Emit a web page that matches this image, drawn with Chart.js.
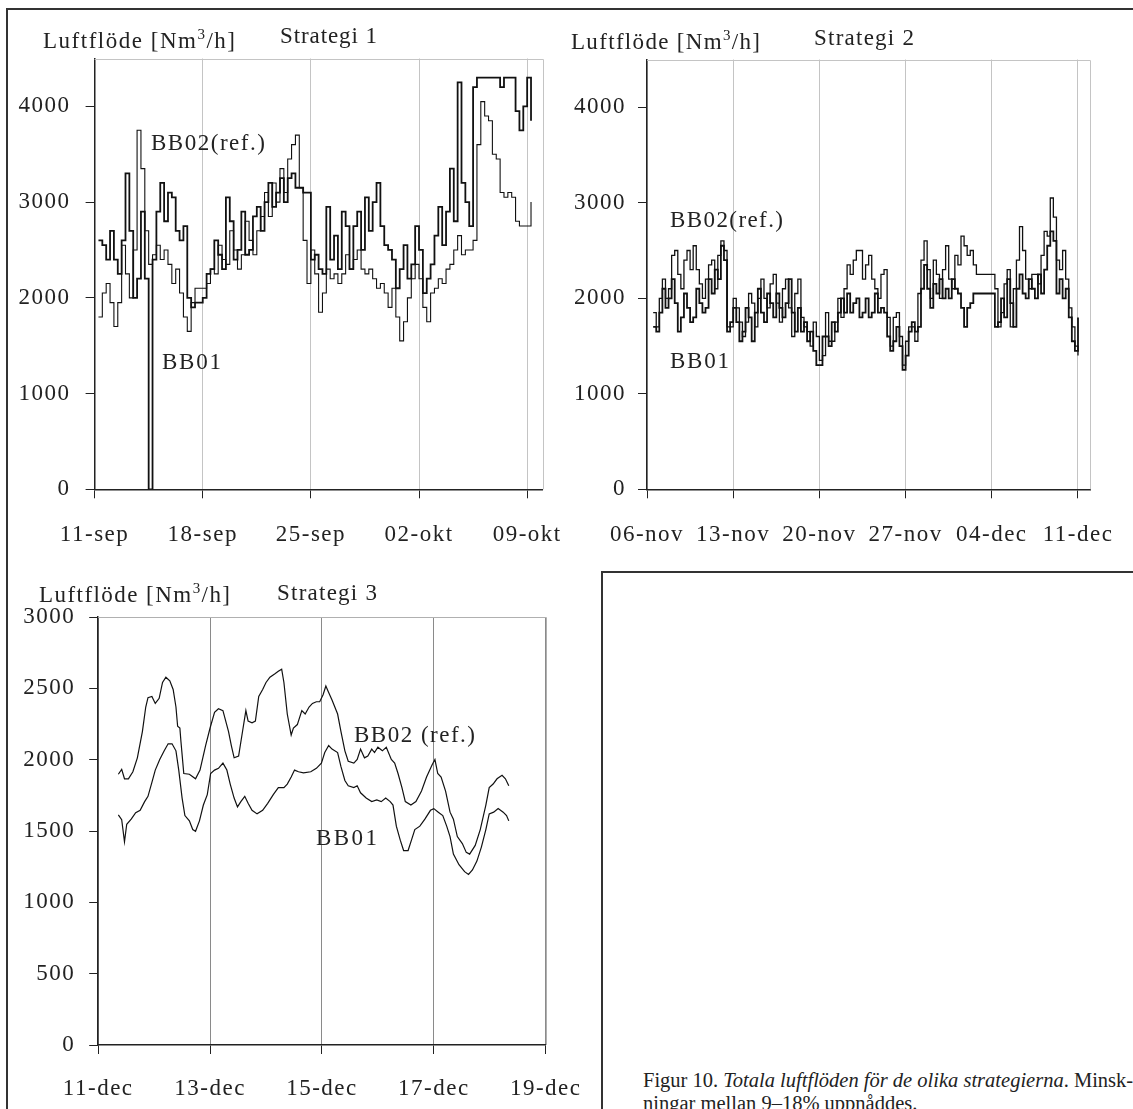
<!DOCTYPE html>
<html lang="sv">
  <head>
    <meta charset="utf-8" />
    <title>Luftflöde strategi 1-3</title>
    <style>
      html, body {
        margin: 0;
        padding: 0;
        width: 1133px;
        height: 1109px;
        overflow: hidden;
        background: #fff;
      }
      canvas { position: absolute; }
      .frame { position: absolute; background: #333; }
      .lbl {
        position: absolute;
        display: inline-block;
        white-space: nowrap;
        font-family: "Liberation Serif", "DejaVu Serif", serif;
        font-size: 23px;
        line-height: 23px;
        color: #222;
      }
      .lbl sup { font-size: 15px; line-height: 0; vertical-align: 9px; }
      .caption {
        position: absolute;
        left: 643px;
        top: 1069px;
        white-space: nowrap;
        font-family: "Liberation Serif", serif;
        font-size: 20.5px;
        line-height: 23px;
        color: #222;
      }
    </style>
  </head>
  <body>
    <!-- page frame -->
    <div class="frame" style="left:7px; top:8px; width:1126px; height:2px"></div>
    <div class="frame" style="left:6px; top:8px; width:2px; height:1101px"></div>
    <div class="frame" style="left:601px; top:571px; width:532px; height:2px"></div>
    <div class="frame" style="left:601px; top:571px; width:2px; height:538px"></div>

    <canvas id="c1" width="600" height="560" style="left:0; top:0"></canvas>
    <canvas id="c2" width="573" height="560" style="left:560px; top:0"></canvas>
    <canvas id="c3" width="600" height="549" style="left:0; top:560px"></canvas>

    <div class="lbl" data-x="43" data-y="41" data-w="192">Luftflöde [Nm<sup>3</sup>/h]</div>
    <div class="lbl" data-x="280" data-y="36" data-w="97">Strategi 1</div>
    <div class="lbl" data-x="151" data-y="143" data-w="114">BB02(ref.)</div>
    <div class="lbl" data-x="162" data-y="362" data-w="59">BB01</div>

    <div class="lbl" data-x="571" data-y="42" data-w="189">Luftflöde [Nm<sup>3</sup>/h]</div>
    <div class="lbl" data-x="814" data-y="38" data-w="100">Strategi 2</div>
    <div class="lbl" data-x="670" data-y="220" data-w="113">BB02(ref.)</div>
    <div class="lbl" data-x="670" data-y="361" data-w="59">BB01</div>

    <div class="lbl" data-x="39" data-y="595" data-w="191">Luftflöde [Nm<sup>3</sup>/h]</div>
    <div class="lbl" data-x="277" data-y="593" data-w="100">Strategi 3</div>
    <div class="lbl" data-x="354" data-y="735" data-w="121">BB02 (ref.)</div>
    <div class="lbl" data-x="316" data-y="838" data-w="61">BB01</div>

    <div class="caption">
      Figur 10. <i>Totala luftflöden för de olika strategierna</i>. Minsk-<br />
      ningar mellan 9–18% uppnåddes.
    </div>

    <script src="https://cdn.jsdelivr.net/npm/chart.js/dist/chart.umd.min.js"></script>
    <script>
      // ---- Strategi 1 (11-sep .. 09-okt), samples every 6 h from day 0.25
      const s1Start = 0.25;
      const s1Step = 0.25;
      const s1Bb02 = [
        1800, 2050, 2150, 1950,  1700, 1950, 2550, 2250,  2000, 2500, 3750, 3350,
        2700, 2350, 2450, 2550,  2400, 2500, 2350, 2150,  2300, 2050, 1800, 1650,
        1950, 2100, 2100, 2100,  2150, 2300, 2250, 2550,  2400, 2350, 2700, 2500,
        2300, 2450, 2800, 2600,  2450, 2700, 2850, 3100,  2850, 3200, 3000, 3350,
        3100, 3450, 3600, 3700,  3150, 2600, 2150, 2500,  2250, 1850, 2050, 2300,
        2200, 2250, 2150, 2250,  2450, 2300, 2400, 2500,  2300, 2250, 2300, 2200,
        2100, 2150, 2050, 1900,  2100, 1800, 1550, 1750,  2000, 2200, 2350, 2200,
        1900, 1750, 2050, 2100,  2200, 2150, 2300, 2350,  2500, 2650, 2450, 2500,
        2500, 2600, 3600, 4050,  3900, 3850, 3500, 3450,  3100, 3050, 3100, 3050,
        2800, 2750, 2750, 2750,  3000
      ];
      const s1Bb01 = [
        2600, 2550, 2400, 2700,  2400, 2250, 2600, 3300,  2700, 2000, 2200, 2900,
        2200, 0, 2400, 2900,     3200, 2800, 3100, 3050,  2700, 2600, 2750, 2000,
        1900, 1950, 1950, 2000,  2250, 2300, 2600, 2450,  2300, 3050, 2800, 2400,
        2500, 2900, 2450, 2500,  2850, 2950, 2700, 3000,  3200, 2950, 3100, 3250,
        3000, 3250, 3300, 3150,  3150, 3100, 3100, 2400,  2450, 2300, 2250, 2950,
        2400, 2650, 2300, 2900,  2750, 2300, 2750, 2900,  2500, 3050, 2700, 3000,
        3200, 2750, 2550, 2500,  2400, 2100, 2300, 2550,  2200, 2350, 2750, 2500,
        2050, 2200, 2350, 2650,  2950, 2550, 2900, 3350,  2800, 4250, 3200, 3000,
        2750, 4200, 4300, 4300,  4300, 4300, 4300, 4300,  4200, 4300, 4300, 4300,
        3950, 3750, 4000, 4300,  3850
      ];
      const s1XTicks = [0, 7, 14, 21, 28];
      const s1XLabels = ["11-sep", "18-sep", "25-sep", "02-okt", "09-okt"];

      // ---- Strategi 2 (06-nov .. 11-dec), samples every 6 h from day 0.5
      const s2Start = 0.5;
      const s2Step = 0.25;
      const s2Bb02 = [
        1850, 1700, 2000,
        2200, 2000, 2100, 2450,  2500, 2250, 2100, 2400,  2500, 2300, 2550, 2300,
        2150, 2000, 2200, 2350,  2400, 2100, 2450, 2600,  2500, 1700, 1700, 2000,
        1900, 1750, 1600, 1750,  2050, 1950, 1700, 2000,  2200, 2000, 1900, 2150,
        2250, 1950, 1750, 2100,  2200, 1900, 1600, 2050,  2200, 1800, 1700, 1650,
        1500, 1750, 1600, 1350,  1400, 1850, 1550, 1550,  1750, 2000, 1800, 2100,
        2350, 2250, 2400, 2500,  2500, 2200, 2350, 2450,  2200, 2100, 2000, 2250,
        2300, 1800, 1500, 1800,  1850, 1600, 1300, 1550,  1700, 1700, 1550, 2050,
        2400, 2600, 2300, 2000,  2400, 2250, 2000, 2300,  2550, 2200, 2100, 2450,
        2350, 2650, 2550, 2450,  2500, 2350, 2250, 2250,  2250, 2250, 2250, 2250,
        2100, 1700, 1850, 2150,  2300, 1700, 2100, 2400,  2750, 2500, 2200, 2100,
        2250, 2250, 2150, 2450,  2700, 2650, 3050, 2850,  2400, 2300, 2500, 2200,
        1900, 1700, 1500, 1400
      ];
      const s2Bb01 = [
        1700, 1650, 1850,
        2100, 1900, 2000, 2200,  1950, 1650, 1800, 2050,  1900, 1750, 1800, 2100,
        1950, 1850, 1900, 2200,  2050, 2300, 2200, 2550,  2400, 1650, 1750, 1900,
        1750, 1550, 1650, 1900,  1800, 1550, 1850, 2100,  1850, 1750, 2050, 1950,
        1800, 2050, 1900, 1800,  1950, 2200, 1850, 1650,  1900, 1650, 1750, 1550,
        1650, 1450, 1300, 1300,  1600, 1600, 1500, 1750,  1650, 1850, 2000, 1850,
        2050, 1850, 1950, 2000,  1800, 1850, 2000, 1800,  1850, 2050, 1850, 1900,
        1850, 1600, 1450, 1550,  1700, 1500, 1250, 1400,  1650, 1750, 1650, 1700,
        2100, 2350, 2100, 1900,  2150, 2050, 2200, 2000,  2100, 2000, 2200, 2100,
        2050, 1900, 1700, 1900,  1950, 2050, 2050, 2050,  2050, 2050, 2050, 2050,
        1700, 1750, 2000, 1800,  2200, 1950, 1700, 2100,  2250, 2050, 2000, 2200,
        2100, 2000, 2250, 2050,  2300, 2550, 2700, 2600,  2050, 2200, 2000, 2100,
        1800, 1550, 1450, 1800
      ];
      const s2XTicks = [0, 7, 14, 21, 28, 35];
      const s2XLabels = ["06-nov", "13-nov", "20-nov", "27-nov", "04-dec", "11-dec"];

      // ---- Strategi 3 (11-dec .. 19-dec), [day, Nm3/h]
      const s3Bb02 = [
        [0.36,1898],[0.42,1932],[0.47,1866],[0.54,1866],[0.62,1915],[0.70,2013],[0.79,2197],
        [0.85,2369],[0.89,2435],[0.96,2443],[1.02,2394],[1.09,2430],[1.15,2541],[1.21,2578],
        [1.28,2553],[1.34,2492],[1.39,2369],[1.42,2234],[1.46,2222],[1.48,2124],[1.53,1903],
        [1.63,1898],[1.74,1866],[1.82,1927],[1.92,2099],[2.00,2222],[2.08,2332],[2.15,2357],
        [2.23,2344],[2.33,2197],[2.38,2099],[2.43,2013],[2.51,2025],[2.59,2222],[2.64,2344],
        [2.68,2271],[2.75,2259],[2.81,2271],[2.87,2443],[2.94,2492],[3.00,2541],[3.07,2578],
        [3.16,2602],[3.22,2619],[3.28,2634],[3.32,2541],[3.38,2320],[3.45,2173],[3.49,2222],
        [3.56,2246],[3.64,2344],[3.70,2320],[3.77,2369],[3.83,2394],[3.90,2406],[3.96,2406],
        [4.02,2455],[4.07,2516],[4.11,2480],[4.18,2418],[4.28,2320],[4.34,2197],[4.41,2062],
        [4.47,1989],[4.57,1976],[4.63,2001],[4.69,2074],[4.76,2013],[4.82,2025],[4.89,2074],
        [4.94,2050],[5.00,2087],[5.08,2062],[5.15,2087],[5.24,2001],[5.30,1976],[5.36,1903],
        [5.43,1804],[5.49,1706],[5.59,1682],[5.68,1706],[5.78,1780],[5.87,1878],[5.97,1964],
        [6.02,2001],[6.07,1903],[6.13,1878],[6.21,1780],[6.29,1632],[6.35,1583],[6.42,1461],
        [6.51,1412],[6.58,1350],[6.64,1338],[6.74,1399],[6.83,1510],[6.93,1682],[6.99,1804],
        [7.06,1829],[7.13,1866],[7.22,1890],[7.28,1866],[7.34,1817]
      ];
      const s3Bb01 = [
        [0.36,1613],[0.42,1579],[0.47,1424],[0.51,1547],[0.59,1583],[0.67,1628],[0.75,1645],
        [0.83,1706],[0.89,1743],[0.96,1841],[1.02,1927],[1.10,2001],[1.18,2062],[1.25,2111],
        [1.32,2111],[1.39,2062],[1.44,1927],[1.50,1731],[1.55,1608],[1.63,1571],[1.69,1510],
        [1.74,1498],[1.81,1571],[1.88,1682],[1.95,1755],[2.01,1903],[2.08,1927],[2.15,1939],
        [2.23,1976],[2.30,1927],[2.36,1829],[2.43,1731],[2.49,1669],[2.55,1706],[2.62,1743],
        [2.68,1694],[2.75,1645],[2.84,1620],[2.94,1645],[3.03,1694],[3.13,1755],[3.22,1804],
        [3.32,1804],[3.38,1829],[3.45,1878],[3.51,1927],[3.58,1915],[3.67,1907],[3.80,1915],
        [3.90,1939],[3.99,1976],[4.05,2050],[4.12,2099],[4.18,2074],[4.28,2050],[4.34,1951],
        [4.41,1854],[4.47,1817],[4.57,1804],[4.63,1817],[4.69,1768],[4.79,1731],[4.89,1706],
        [4.98,1718],[5.06,1706],[5.14,1731],[5.22,1706],[5.27,1682],[5.33,1534],[5.40,1436],
        [5.46,1363],[5.54,1363],[5.60,1436],[5.66,1510],[5.75,1534],[5.84,1583],[5.94,1645],
        [6.00,1657],[6.08,1632],[6.16,1608],[6.23,1534],[6.29,1461],[6.35,1338],[6.45,1264],
        [6.55,1215],[6.62,1196],[6.69,1227],[6.77,1289],[6.85,1387],[6.93,1510],[6.99,1620],
        [7.07,1632],[7.15,1657],[7.24,1632],[7.30,1608],[7.34,1571]
      ];
      const s3XTicks = [0, 2, 4, 6, 8];
      const s3XLabels = ["11-dec", "13-dec", "15-dec", "17-dec", "19-dec"];

      const yTicks12 = [0, 1000, 2000, 3000, 4000];
      const yTicks3 = [0, 500, 1000, 1500, 2000, 2500, 3000];

      // ---- helpers
      const seriesPoints = (vals, t0, dt) => vals.map((v, i) => ({ x: t0 + i * dt, y: v }));
      const pairPoints = (pairs) => pairs.map((p) => ({ x: p[0], y: p[1] }));

      // light grey box on top/right of the plot area, and the wide tick lettering
      const plotBox = {
        id: "plotBox",
        beforeDraw(chart) {
          chart.ctx.letterSpacing = "1.5px";
        },
        beforeDatasetsDraw(chart, args, opts) {
          const { ctx, chartArea: a } = chart;
          ctx.save();
          ctx.strokeStyle = opts.color;
          ctx.lineWidth = 1;
          ctx.beginPath();
          ctx.moveTo(a.left, Math.round(a.top) + 0.5);
          ctx.lineTo(Math.round(a.right) + 0.5, Math.round(a.top) + 0.5);
          ctx.lineTo(Math.round(a.right) + 0.5, a.bottom);
          ctx.stroke();
          ctx.restore();
        },
      };

      const tickFont = { family: "Liberation Serif", size: 23 };

      function makeChart(id, o) {
        const datasets = o.series.map((s) => ({
          data: s.data,
          borderColor: "#111",
          borderWidth: s.width,
          stepped: o.stepped,
          pointRadius: 0,
          tension: 0,
          fill: false,
        }));
        return new Chart(document.getElementById(id), {
          type: "line",
          data: { datasets },
          plugins: [plotBox],
          options: {
            responsive: false,
            animation: false,
            devicePixelRatio: 1,
            layout: { padding: { top: o.top, right: o.right, left: 0, bottom: 0 } },
            plugins: {
              legend: { display: false },
              tooltip: { enabled: false },
              plotBox: { color: o.boxColor },
            },
            scales: {
              x: {
                type: "linear",
                min: 0,
                max: o.xMax,
                afterFit: (ax) => { ax.height = o.xHeight; },
                afterBuildTicks: (ax) => { ax.ticks = o.xTicks.map((v) => ({ value: v })); },
                grid: {
                  color: o.gridColor,
                  tickColor: "#222",
                  tickLength: 9,
                  lineWidth: 1,
                },
                border: { color: "#222", width: 1.5 },
                ticks: {
                  autoSkip: false,
                  maxRotation: 0,
                  padding: o.xPad,
                  color: "#222",
                  font: tickFont,
                  callback: (v) => o.xLabels[o.xTicks.indexOf(v)],
                },
              },
              y: {
                min: 0,
                max: o.yMax,
                afterFit: (ax) => { ax.width = o.yWidth; },
                afterBuildTicks: (ax) => { ax.ticks = o.yTicks.map((v) => ({ value: v })); },
                grid: { drawOnChartArea: false, tickColor: "#222", tickLength: 9 },
                border: { color: "#222", width: 1.5 },
                ticks: {
                  padding: o.yPad,
                  color: "#222",
                  font: tickFont,
                  callback: (v) => String(v),
                },
              },
            },
          },
        });
      }

      makeChart("c1", {
        series: [
          { data: seriesPoints(s1Bb02, s1Start, s1Step), width: 1.1 },
          { data: seriesPoints(s1Bb01, s1Start, s1Step), width: 1.8 },
        ],
        stepped: true,
        xMax: 29, xTicks: s1XTicks, xLabels: s1XLabels,
        yMax: 4500, yTicks: yTicks12,
        top: 58.5, right: 57.4, yWidth: 94.6, xHeight: 70.7,
        xPad: 23, yPad: 15,
        gridColor: "#c4c4c4", boxColor: "#c4c4c4",
      });

      makeChart("c2", {
        series: [
          { data: seriesPoints(s2Bb02, s2Start, s2Step), width: 1.3 },
          { data: seriesPoints(s2Bb01, s2Start, s2Step), width: 1.8 },
        ],
        stepped: true,
        xMax: 36, xTicks: s2XTicks, xLabels: s2XLabels,
        yMax: 4500, yTicks: yTicks12,
        top: 59.5, right: 41.2, yWidth: 87, xHeight: 70.7,
        xPad: 23, yPad: 12,
        gridColor: "#c4c4c4", boxColor: "#c4c4c4",
      });

      makeChart("c3", {
        series: [
          { data: pairPoints(s3Bb02), width: 1.2 },
          { data: pairPoints(s3Bb01), width: 1.2 },
        ],
        stepped: false,
        xMax: 8, xTicks: s3XTicks, xLabels: s3XLabels,
        yMax: 3000, yTicks: yTicks3,
        top: 57, right: 54.3, yWidth: 98.2, xHeight: 64,
        xPad: 21, yPad: 14,
        gridColor: "#8a8a8a", boxColor: "#b0b0b0",
      });

      // place the text labels and stretch them to the widths seen in the figure
      document.querySelectorAll(".lbl").forEach((el) => {
        const w = +el.dataset.w;
        el.style.left = el.dataset.x + "px";
        el.style.top = (+el.dataset.y - 12) + "px";
        el.style.letterSpacing = "0px";
        const m = el.getBoundingClientRect().width;
        const n = el.textContent.length - 1;
        el.style.letterSpacing = ((w - m) / n).toFixed(2) + "px";
      });
    </script>
  </body>
</html>
